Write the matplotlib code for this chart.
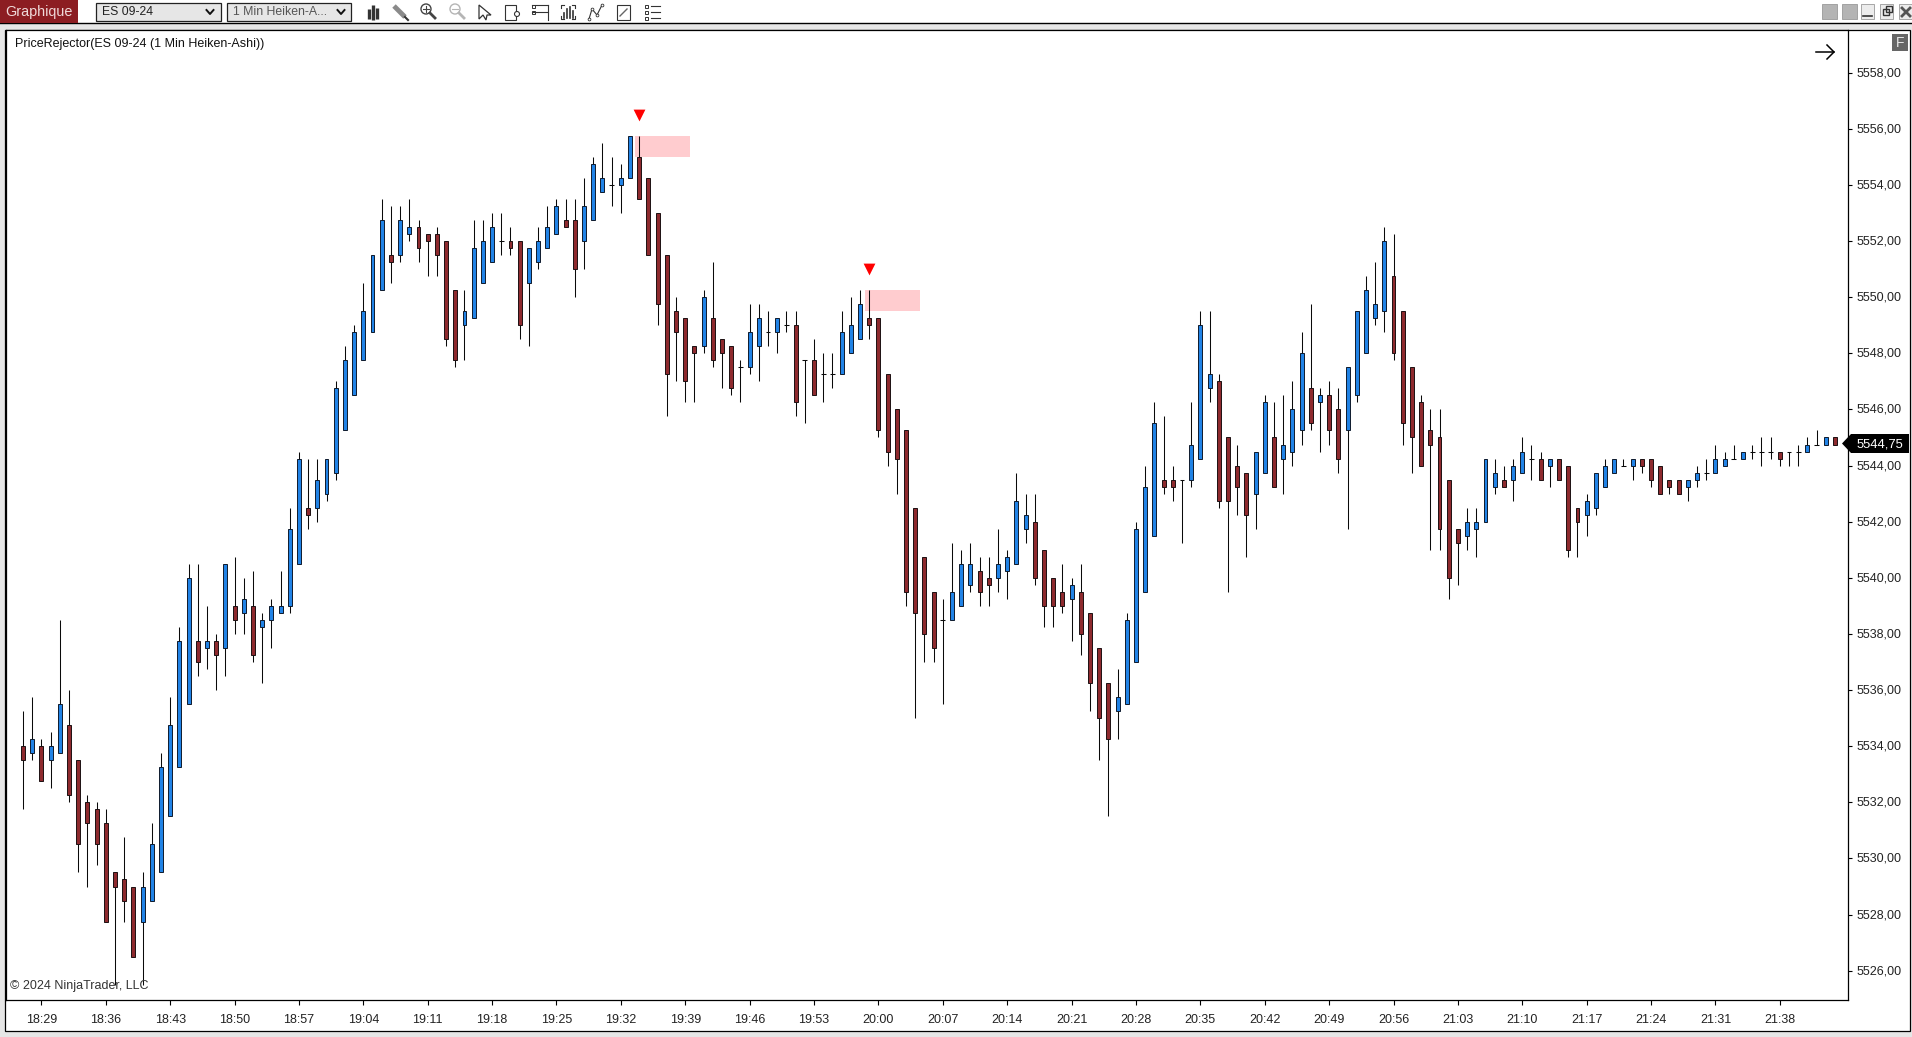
#!/usr/bin/env python3
"""NinjaTrader screenshot: ES 09-24 1 min Heiken-Ashi with PriceRejector signals"""

import matplotlib
matplotlib.use('Agg')
import matplotlib.pyplot as plt
from matplotlib.patches import Rectangle, Polygon, Circle
from matplotlib.transforms import ScaledTranslation
import numpy as np

opens = [
    5534, 5533.75, 5534, 5533.5, 5533.75, 5534.75, 5533.5, 5532, 5531.75, 5531.25,
    5529.5, 5529.25, 5529, 5527.75, 5528.5, 5529.5, 5531.5, 5533.25, 5535.5, 5537.75,
    5537.5, 5537.75, 5537.5, 5539, 5538.75, 5539, 5538.25, 5538.5, 5538.75, 5539,
    5540.5, 5542.5, 5542.5, 5543, 5543.75, 5545.25, 5546.5, 5547.75, 5548.75, 5550.25,
    5551.5, 5551.5, 5552.25, 5552.5, 5552.25, 5552.25, 5552, 5550.25, 5549, 5549.25,
    5550.5, 5551.25, 5552, 5552, 5552, 5550.5, 5551.25, 5551.75, 5552.25, 5552.75,
    5552.75, 5552, 5552.75, 5553.75, 5554, 5554, 5554.25, 5555, 5554.25, 5553,
    5551.5, 5549.5, 5549.25, 5548.25, 5548.25, 5549.25, 5548.5, 5548.25, 5547.5, 5547.5,
    5548.25, 5548.75, 5548.75, 5549, 5549, 5547.75, 5547.75, 5547.25, 5547.25, 5547.25,
    5548, 5548.5, 5549.25, 5549.25, 5547.25, 5546, 5545.25, 5542.5, 5540.75, 5539.5,
    5538.5, 5538.5, 5539, 5539.75, 5540.25, 5540, 5540, 5540.25, 5540.5, 5541.75,
    5542, 5541, 5540, 5539.5, 5539.25, 5539.5, 5538.75, 5537.5, 5536.25, 5535.25,
    5535.5, 5537, 5539.5, 5541.5, 5543.5, 5543.5, 5543.5, 5543.5, 5544.25, 5546.75,
    5547, 5545, 5544, 5543.75, 5543, 5543.75, 5545, 5544.25, 5544.5, 5545.25,
    5546.75, 5546.25, 5546.5, 5546, 5545.25, 5546.5, 5548, 5549.25, 5549.5, 5550.75,
    5549.5, 5547.5, 5546.25, 5545.25, 5545, 5543.5, 5541.75, 5541.5, 5541.75, 5542,
    5543.25, 5543.5, 5543.5, 5543.75, 5544.25, 5544.25, 5544, 5544.25, 5544, 5542.5,
    5542.25, 5542.5, 5543.25, 5543.75, 5544, 5544, 5544.25, 5544.25, 5544, 5543.5,
    5543.5, 5543.25, 5543.5, 5543.75, 5543.75, 5544, 5544.25, 5544.25, 5544.5, 5544.5,
    5544.5, 5544.5, 5544.5, 5544.5, 5544.5, 5544.75, 5544.75, 5545,
]
closes = [
    5533.5, 5534.25, 5532.75, 5534, 5535.5, 5532.25, 5530.5, 5531.25, 5530.5, 5527.75,
    5529, 5528.5, 5526.5, 5529, 5530.5, 5533.25, 5534.75, 5537.75, 5540, 5537,
    5537.75, 5537.25, 5540.5, 5538.5, 5539.25, 5537.25, 5538.5, 5539, 5539, 5541.75,
    5544.25, 5542.25, 5543.5, 5544.25, 5546.75, 5547.75, 5548.75, 5549.5, 5551.5, 5552.75,
    5551.25, 5552.75, 5552.5, 5551.75, 5552, 5551.5, 5548.5, 5547.75, 5549.5, 5551.75,
    5552, 5552.5, 5552, 5551.75, 5549, 5551.75, 5552, 5552.5, 5553.25, 5552.5,
    5551, 5553.25, 5554.75, 5554.25, 5554, 5554.25, 5555.75, 5553.5, 5551.5, 5549.75,
    5547.25, 5548.75, 5547, 5548, 5550, 5547.75, 5548, 5546.75, 5547.5, 5548.75,
    5549.25, 5548.75, 5549.25, 5549, 5546.25, 5547.75, 5546.5, 5547.25, 5547.25, 5548.75,
    5549, 5549.75, 5549, 5545.25, 5544.5, 5544.25, 5539.5, 5538.75, 5538, 5537.5,
    5538.5, 5539.5, 5540.5, 5540.5, 5539.5, 5539.75, 5540.5, 5540.75, 5542.75, 5542.25,
    5540, 5539, 5539, 5539, 5539.75, 5538, 5536.25, 5535, 5534.25, 5535.75,
    5538.5, 5541.75, 5543.25, 5545.5, 5543.25, 5543.25, 5543.5, 5544.75, 5549, 5547.25,
    5542.75, 5542.75, 5543.25, 5542.25, 5544.5, 5546.25, 5543.25, 5544.75, 5546, 5548,
    5545.5, 5546.5, 5545.25, 5544.25, 5547.5, 5549.5, 5550.25, 5549.75, 5552, 5548,
    5545.5, 5545, 5544, 5544.75, 5541.75, 5540, 5541.25, 5542, 5542, 5544.25,
    5543.75, 5543.25, 5544, 5544.5, 5544.25, 5543.5, 5544.25, 5543.5, 5541, 5542,
    5542.75, 5543.75, 5544, 5544.25, 5544, 5544.25, 5544, 5543.5, 5543, 5543.25,
    5543, 5543.5, 5543.75, 5543.75, 5544.25, 5544.25, 5544.25, 5544.5, 5544.5, 5544.5,
    5544.5, 5544.25, 5544.5, 5544.5, 5544.75, 5544.75, 5545, 5544.75,
]
highs = [
    5535.25, 5535.75, 5534.25, 5534.5, 5538.5, 5536, 5533.5, 5532.25, 5532, 5531.75,
    5529.5, 5530.75, 5529, 5529.5, 5531.25, 5533.75, 5535.75, 5538.25, 5540.5, 5540.5,
    5539, 5538, 5540.5, 5540.75, 5540, 5540.25, 5538.75, 5539.25, 5540.25, 5542.5,
    5544.5, 5544.25, 5544.25, 5544.25, 5547, 5548.25, 5549, 5550.5, 5551.5, 5553.5,
    5553.25, 5553.25, 5553.5, 5552.75, 5552.25, 5552.5, 5552, 5550.25, 5550.25, 5552.75,
    5552.75, 5553, 5553, 5552.5, 5552, 5551.75, 5552.5, 5553.25, 5553.5, 5553.5,
    5553.5, 5554.25, 5555, 5555.5, 5555, 5554.75, 5555.75, 5555.75, 5554.25, 5553,
    5551.5, 5550, 5549.25, 5548.25, 5550.25, 5551.25, 5548.5, 5548.25, 5547.75, 5549.75,
    5549.75, 5549.5, 5549.25, 5549.5, 5549.5, 5547.75, 5548.5, 5548, 5548, 5549.5,
    5550, 5550.25, 5550.25, 5549.25, 5547.25, 5546, 5545.25, 5542.5, 5540.75, 5539.5,
    5539.25, 5541.25, 5541, 5541.25, 5540.75, 5540.75, 5541.75, 5541, 5543.75, 5543,
    5543, 5541, 5540, 5540.5, 5540, 5540.5, 5538.75, 5537.5, 5536.25, 5536.75,
    5538.75, 5542, 5544, 5546.25, 5545.75, 5544, 5543.5, 5546.25, 5549.5, 5549.5,
    5547.25, 5545, 5544.75, 5543.75, 5544.5, 5546.5, 5546.25, 5546.5, 5547, 5548.75,
    5549.75, 5546.75, 5547, 5546.75, 5547.5, 5549.5, 5550.75, 5551.25, 5552.5, 5552.25,
    5549.5, 5547.5, 5546.5, 5546, 5546, 5543.5, 5541.75, 5542.5, 5542.5, 5544.25,
    5544.25, 5544, 5544.25, 5545, 5544.75, 5544.5, 5544.25, 5544.25, 5544, 5542.5,
    5543, 5543.75, 5544.25, 5544.25, 5544.25, 5544.25, 5544.25, 5544.25, 5544, 5543.5,
    5543.5, 5543.5, 5544, 5544.25, 5544.75, 5544.5, 5544.75, 5544.5, 5544.75, 5545,
    5545, 5544.5, 5544.5, 5544.75, 5545, 5545.25, 5545, 5545,
]
lows = [
    5531.75, 5533.5, 5532.75, 5532.5, 5533.75, 5532, 5529.5, 5529, 5529.75, 5527.75,
    5525.5, 5527.75, 5526.5, 5525.5, 5528.5, 5529.5, 5531.5, 5533.25, 5535.5, 5536.5,
    5536.75, 5536, 5536.5, 5538, 5538, 5537, 5536.25, 5537.5, 5538.75, 5538.75,
    5540.5, 5541.75, 5542, 5542.75, 5543.5, 5545.25, 5546.5, 5547.75, 5548.75, 5550.25,
    5550.5, 5551.25, 5552, 5551.25, 5550.75, 5550.75, 5548.25, 5547.5, 5547.75, 5549.25,
    5550.5, 5551.25, 5551.5, 5551.5, 5548.5, 5548.25, 5551, 5551.75, 5552.25, 5552.5,
    5550, 5551, 5552.75, 5553.75, 5553.25, 5553, 5554.25, 5553.5, 5551.5, 5549,
    5545.75, 5547, 5546.25, 5546.25, 5548, 5547.5, 5546.75, 5546.5, 5546.25, 5547.25,
    5547, 5548.25, 5548, 5548.75, 5545.75, 5545.5, 5546.5, 5546.25, 5546.75, 5547.25,
    5548, 5548.5, 5548.5, 5545, 5544, 5543, 5539, 5535, 5537, 5537,
    5535.5, 5538.5, 5539, 5539.5, 5539, 5539, 5539.5, 5539.25, 5540.5, 5541.25,
    5539.75, 5538.25, 5538.25, 5538.75, 5537.75, 5537.25, 5535.25, 5533.5, 5531.5, 5534.25,
    5535.5, 5537, 5539.5, 5541.5, 5543, 5542.75, 5541.25, 5543.25, 5544.25, 5546.25,
    5542.5, 5539.5, 5542.25, 5540.75, 5541.75, 5543.75, 5543.25, 5543, 5544, 5544.75,
    5545.25, 5544.5, 5544.75, 5543.75, 5541.75, 5546.25, 5548, 5549, 5548.75, 5547.75,
    5544.75, 5543.75, 5544, 5541, 5541, 5539.25, 5539.75, 5541, 5540.75, 5542,
    5543, 5543.25, 5542.75, 5543.75, 5543.5, 5543.5, 5543.25, 5543.5, 5540.75, 5540.75,
    5541.5, 5542.25, 5543.25, 5543.75, 5544, 5543.5, 5543.75, 5543.25, 5543, 5543,
    5543, 5542.75, 5543.25, 5543.5, 5543.75, 5544, 5544.25, 5544.25, 5544.25, 5544,
    5544.25, 5544, 5544, 5544, 5544.5, 5544.75, 5544.75, 5544.75,
]

time_labels = ['18:29', '18:36', '18:43', '18:50', '18:57', '19:04', '19:11', '19:18',
               '19:25', '19:32', '19:39', '19:46', '19:53', '20:00', '20:07', '20:14',
               '20:21', '20:28', '20:35', '20:42', '20:49', '20:56', '21:03', '21:10',
               '21:17', '21:24', '21:31', '21:38']
time_ticks = np.arange(2, 192, 7)
price_ticks = np.arange(5526, 5559, 2)
last_price = 5544.75

# PriceRejector output: arrow above the bar, rejection zone right of it
signal_bars = [67, 92]
signal_prices = [5556.5, 5551.0]
zone_starts = [66.5, 91.5]
zone_ends = [72.5, 97.5]
zone_tops = [5555.75, 5550.25]
zone_bottoms = [5555.0, 5549.5]

BLUE = '#2183E6'
RED = '#8E2A2E'
EDGE = '#0E1A2C'
FONT = 'Liberation Sans'

W, H = 1912, 1037
plt.rcParams['font.family'] = FONT


def px_axes(fig, zorder):
    """Full figure axes working in screen pixels, y going down"""
    a = fig.add_axes([0, 0, 1, 1], zorder=zorder)
    a.set_xlim(0, W)
    a.set_ylim(H, 0)
    a.axis('off')
    return a


def draw_icons(a):
    """Rough toolbar glyphs"""
    dark = '#333333'
    # bars
    for x, y0, y1 in [(369, 9, 19), (373, 5, 20), (377, 8, 19)]:
        a.plot([x, x], [y0, y1], color=dark, lw=2.4, solid_capstyle='butt')
    # pencil
    a.plot([394, 405], [6, 17], color='#8A8A8A', lw=3.5, solid_capstyle='butt')
    a.plot([405, 408], [17, 20], color='#333333', lw=1.5)
    # zoom in / zoom out
    for x, col in [(426, '#444444'), (455, '#b5b5b5')]:
        a.add_patch(Circle((x, 9), 5, fc='none', ec=col, lw=1))
        a.plot([x + 4, x + 9], [13, 18], color=col, lw=2)
        a.plot([x - 3, x + 3], [9, 9], color=col, lw=0.8)
    a.plot([426, 426], [6, 12], color='#444444', lw=0.8)
    # cursor
    a.add_patch(Polygon([(479, 5), (479, 19), (483, 15), (486, 20), (487, 15), (491, 15)],
                        fc='white', ec=dark, lw=0.9))
    # document
    a.add_patch(Rectangle((505, 5), 11, 15, fc='white', ec=dark, lw=0.8))
    a.add_patch(Circle((517, 14), 2.5, fc='white', ec=dark, lw=0.8))
    # table / bars in brackets
    a.plot([532, 548], [5, 5], color=dark, lw=0.8)
    a.plot([532, 548], [12, 12], color=dark, lw=0.8)
    a.plot([548, 548], [5, 20], color=dark, lw=0.8)
    a.add_patch(Rectangle((532, 5), 3, 3, fc='white', ec=dark, lw=0.7))
    a.add_patch(Rectangle((532, 11), 3, 3, fc='white', ec=dark, lw=0.7))
    a.plot([561, 561, 564], [8, 5, 5], color=dark, lw=0.8)
    a.plot([561, 561, 564], [16, 19, 19], color=dark, lw=0.8)
    a.plot([575, 575, 572], [8, 5, 5], color=dark, lw=0.8)
    a.plot([575, 575, 572], [16, 19, 19], color=dark, lw=0.8)
    for x, y0 in [(564, 13), (567, 9), (570, 7), (573, 11)]:
        a.plot([x, x], [y0, 18], color=dark, lw=1.2)
    # line tool
    a.plot([589, 592, 597, 602], [19, 9, 15, 5], color=dark, lw=0.8, marker='o', ms=2,
           mfc='white', mew=0.6)
    # notes
    a.add_patch(Rectangle((617, 5), 13, 15, fc='white', ec=dark, lw=0.8))
    a.plot([620, 627], [16, 9], color='#666666', lw=1)
    # list
    for y in [6, 12, 18]:
        a.add_patch(Rectangle((645, y - 1.5), 3, 3, fc='white', ec=dark, lw=0.7))
        a.plot([651, 660], [y, y], color=dark, lw=0.8)


def create_chart():
    fig = plt.figure(figsize=(W / 100, H / 100), dpi=100, facecolor='#E6E6E6')

    # window background and frames
    bg = px_axes(fig, 0)
    bg.add_patch(Rectangle((0, 0), W, 23, fc='white', ec='none'))
    bg.plot([0, W], [23, 23], color='black', lw=1)
    bg.add_patch(Rectangle((5.5, 30), 1904.5, 1001, fc='white', ec='black', lw=0.9))

    ax = fig.add_axes([5.5 / W, 1 - 1000 / H, (1848 - 5.5) / W, 970 / H], zorder=1)
    x = np.arange(len(opens))
    o, c, hi, lo = map(np.array, (opens, closes, highs, lows))
    up = c > o
    down = c < o
    flat = c == o

    for i in range(len(zone_starts)):
        ax.add_patch(Rectangle((zone_starts[i], zone_bottoms[i]),
                               zone_ends[i] - zone_starts[i],
                               zone_tops[i] - zone_bottoms[i],
                               fc='#FFCCCF', ec='none', zorder=1))

    ax.vlines(x, lo, hi, color='#0A0A0A', lw=0.75, zorder=2)
    ax.bar(x[up], (c - o)[up], bottom=o[up], width=0.43, color=BLUE, edgecolor=EDGE,
           linewidth=0.7, zorder=3)
    ax.bar(x[down], (o - c)[down], bottom=c[down], width=0.43, color=RED, edgecolor='#1C1012',
           linewidth=0.7, zorder=3)
    ax.hlines(o[flat], x[flat] - 0.26, x[flat] + 0.26, color='#0A0A0A', lw=0.75, zorder=3)
    ax.scatter(signal_bars, signal_prices, marker='v', s=72, color='#FF0000',
               linewidths=0, zorder=4)

    ax.set_xlim(-1.90, 198.41)
    ax.set_ylim(5524.956, 5559.52)
    ax.set_xticks(time_ticks)
    ax.set_xticklabels(time_labels)
    ax.yaxis.tick_right()
    ax.set_yticks(price_ticks)
    ax.set_yticklabels([f'{p:.2f}'.replace('.', ',') for p in price_ticks])
    ax.tick_params(axis='x', length=3.8, width=0.8, pad=6, labelsize=9, labelcolor='#222222')
    ax.tick_params(axis='y', length=2.8, width=0.8, pad=3.6, labelsize=9, labelcolor='#222222')
    # price labels sit a pixel higher than the ticks
    up_1px = ScaledTranslation(0, 1 / 100, fig.dpi_scale_trans)
    for lab in ax.get_yticklabels():
        lab.set_transform(lab.get_transform() + up_1px)
    for s in ax.spines.values():
        s.set_linewidth(0.9)

    # everything that sits on top of the plot
    fg = px_axes(fig, 2)
    fg.text(15, 44, 'PriceRejector(ES 09-24 (1 Min Heiken-Ashi))', fontsize=9,
            color='#111111', va='center')
    fg.text(10.5, 985.5, '\u00a9 2024 NinjaTrader, LLC', fontsize=9, color='#333333',
            va='center')
    fg.plot([1816, 1834], [52, 52], color='black', lw=1.1)
    fg.plot([1827, 1834, 1827], [45, 52, 59], color='black', lw=1.1)
    fg.add_patch(Rectangle((1892, 34), 16, 17, fc='#666666', ec='none'))
    fg.text(1900, 42.8, 'F', fontsize=10, color='#E8E8E8', ha='center', va='center')

    # last price flag
    fg.add_patch(Polygon([(1842, 443.5), (1851, 434), (1909, 434), (1909, 453), (1851, 453)],
                         fc='black', ec='none'))
    fg.text(1880, 444.5, f'{last_price:.2f}'.replace('.', ','), fontsize=9.4, color='white',
            ha='center', va='center')

    # toolbar
    fg.add_patch(Rectangle((0, 0), 78, 23, fc='#8C1D22', ec='none'))
    fg.text(5.5, 12, 'Graphique', fontsize=10.4, color='#EFD9D9', va='center')
    fg.add_patch(Rectangle((96, 3), 125, 18, fc='#E6E6E6', ec='#222222', lw=0.9))
    fg.text(102, 12, 'ES 09-24', fontsize=8.8, color='#222222', va='center')
    fg.add_patch(Rectangle((227, 3), 124, 18, fc='#E6E6E6', ec='#222222', lw=0.9))
    fg.text(233, 12, '1 Min Heiken-A...', fontsize=8.8, color='#555555', va='center')
    for cx in [210, 341]:
        fg.plot([cx - 3.5, cx, cx + 3.5], [10, 14, 10], color='#111111', lw=1.4)
    draw_icons(fg)

    # window buttons
    for bx in [1822, 1842]:
        fg.add_patch(Rectangle((bx, 4), 15, 15, fc='#B4B4B4', ec='#999999', lw=0.6))
    for bx in [1861, 1880, 1899]:
        fg.add_patch(Rectangle((bx, 4), 13, 15, fc='#ECECEC', ec='#999999', lw=0.6))
    fg.plot([1863, 1872], [16, 16], color='#333333', lw=1.2)
    fg.add_patch(Rectangle((1883, 9), 6, 6, fc='none', ec='#333333', lw=1))
    fg.add_patch(Rectangle((1886, 6), 6, 6, fc='none', ec='#333333', lw=1))
    fg.plot([1902, 1910], [8, 16], color='#555555', lw=2)
    fg.plot([1902, 1910], [16, 8], color='#555555', lw=2)

    fig.savefig('out.png', dpi=100, facecolor=fig.get_facecolor())


if __name__ == "__main__":
    create_chart()
